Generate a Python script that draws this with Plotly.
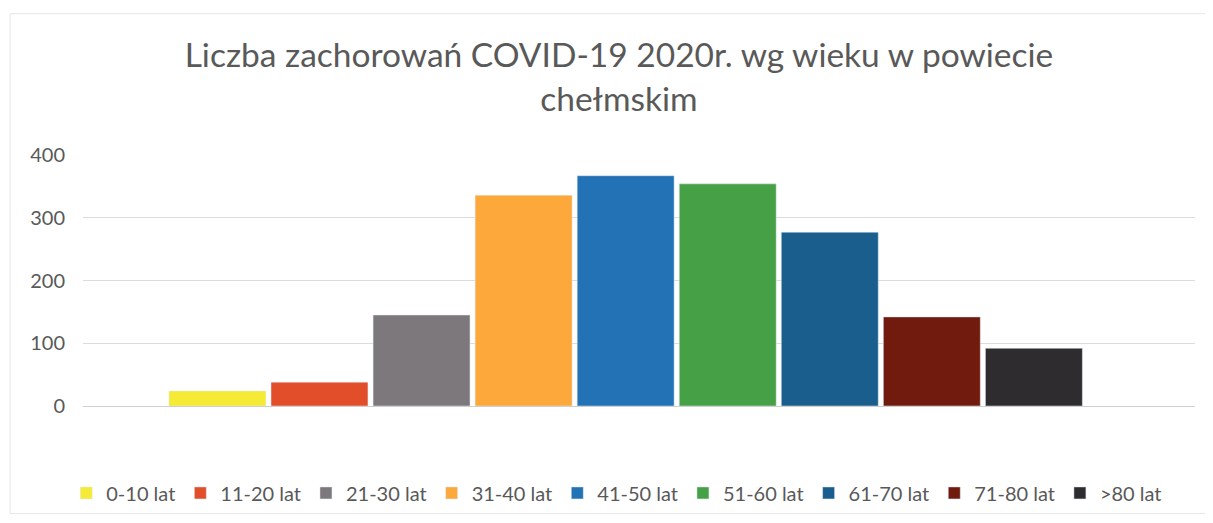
import plotly.graph_objects as go

grupy = ["0-10 lat", "11-20 lat", "21-30 lat", "31-40 lat", "41-50 lat",
         "51-60 lat", "61-70 lat", "71-80 lat", ">80 lat"]
zachorowania = [24, 38, 145, 336, 367, 354, 277, 142, 92]
kolory = ["#F5EA35", "#E24D2A", "#7C787C", "#FDA83B", "#2372B6",
          "#46A046", "#1A5E8E", "#701B0D", "#2E2C2E"]
kategoria = [""]

fig = go.Figure()
for nazwa, wartosc, kolor in zip(grupy, zachorowania, kolory):
    fig.add_trace(go.Bar(x=kategoria, y=[wartosc], name=nazwa, marker_color=kolor))

# strona ma margines 8 px, więc figura jest o tyle mniejsza
fig.update_layout(
    barmode="group", bargap=0.174, bargroupgap=0.05,
    width=1205, height=515,
    paper_bgcolor="white", plot_bgcolor="white",
    font=dict(family="Lato, sans-serif", color="#595959"),
    title=dict(text="Liczba zachorowań COVID-19 2020r. wg wieku w powiecie<br>chełmskim",
               x=0.507, xanchor="center", y=0.885, yanchor="top",
               font=dict(size=33.5, color="#595959")),
    margin=dict(l=75, r=18, t=147, b=116),
    xaxis=dict(showticklabels=False, showgrid=False, zeroline=False,
               showline=False, range=[-0.488, 0.512]),
    yaxis=dict(range=[0, 400], dtick=100, showgrid=True, gridcolor="#DCDCDC",
               zeroline=True, zerolinecolor="#CFCFCF", zerolinewidth=1,
               tickfont=dict(size=20, color="#595959"), ticks="", ticklen=0,
               ticklabelstandoff=17),
    legend=dict(orientation="h", x=0.48, xanchor="center", y=-0.341, yanchor="middle",
                font=dict(size=20, color="#595959"), itemwidth=30,
                traceorder="normal"),
    shapes=[dict(type="rect", xref="paper", yref="paper",
                 x0=-0.0656, x1=1.03, y0=-0.4286, y1=1.563,
                 line=dict(color="#E6E6E6", width=1))],
)

fig.write_html("out.html")
